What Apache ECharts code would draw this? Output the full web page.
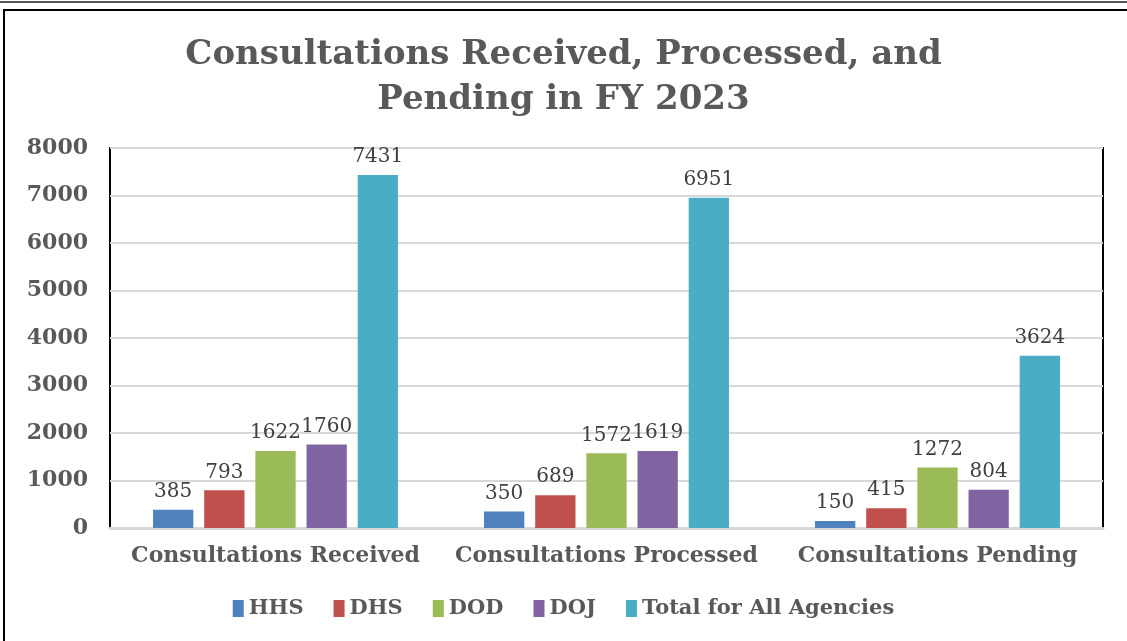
<!DOCTYPE html>
<html>
<head>
<meta charset="utf-8">
<title>Consultations FY 2023</title>
<script src="https://cdn.jsdelivr.net/npm/echarts@6/dist/echarts.min.js"></script>
<style>
  html, body { margin: 0; padding: 0; background: #fff; }
  #chart { width: 1127px; height: 641px; }
</style>
</head>
<body>
<div id="chart"></div>
<script>
const categories = ['Consultations Received', 'Consultations Processed', 'Consultations Pending']
const seriesNames = ['HHS', 'DHS', 'DOD', 'DOJ', 'Total for All Agencies']
const hhs = [385, 350, 150]
const dhs = [793, 689, 415]
const dod = [1622, 1572, 1272]
const doj = [1760, 1619, 804]
const total = [7431, 6951, 3624]
const yTicks = [0, 1000, 2000, 3000, 4000, 5000, 6000, 7000, 8000]

const colors = ['#4F81BD', '#C0504D', '#9BBB59', '#8064A2', '#4BACC6']
const serif = '"DejaVu Serif", "Liberation Serif", serif'
const textGray = '#595959'

const chart = echarts.init(document.getElementById('chart'))

const seriesData = [hhs, dhs, dod, doj, total]
const series = seriesData.map((values, i) => ({
  name: seriesNames[i],
  type: 'bar',
  data: values,
  barGap: '27%',
  barCategoryGap: '26%',
  itemStyle: { color: colors[i] },
  label: {
    show: true,
    position: 'top',
    distance: 8,
    color: '#404040',
    fontFamily: serif,
    fontSize: 20,
  },
}))

const option = {
  backgroundColor: '#fff',
  animation: false,
  title: {
    text: 'Consultations Received, Processed, and\nPending in FY 2023',
    left: 'center',
    top: 28,
    textStyle: {
      color: textGray,
      fontFamily: serif,
      fontWeight: 'bold',
      fontSize: 34,
      lineHeight: 45,
    },
  },
  legend: {
    data: seriesNames,
    bottom: 17,
    left: 'center',
    icon: 'rect',
    itemWidth: 11,
    itemHeight: 17,
    itemGap: 30,
    textStyle: {
      color: textGray,
      fontFamily: serif,
      fontWeight: 'bold',
      fontSize: 21,
    },
  },
  grid: {
    left: 110,
    top: 148,
    right: 24,
    bottom: 113,
    show: true,
    borderColor: '#000',
    borderWidth: 2,
  },
  xAxis: {
    type: 'category',
    data: categories,
    axisTick: { show: false },
    axisLine: { lineStyle: { color: '#d9d9d9', width: 3 } },
    axisLabel: {
      interval: 0,
      color: textGray,
      fontFamily: serif,
      fontWeight: 'bold',
      fontSize: 22,
      margin: 17,
    },
  },
  yAxis: {
    type: 'value',
    min: yTicks[0],
    max: yTicks[yTicks.length - 1],
    interval: 1000,
    axisLine: { show: false },
    axisTick: { show: false },
    splitLine: { lineStyle: { color: '#d9d9d9', width: 2 } },
    axisLabel: {
      formatter: (v) => String(v),
      color: textGray,
      fontFamily: serif,
      fontWeight: 'bold',
      fontSize: 22,
      margin: 22,
    },
  },
  // frame lines round the whole picture
  graphic: [
    { type: 'line', shape: { x1: 0, y1: 2, x2: 1127, y2: 2 }, style: { stroke: '#555', lineWidth: 2 } },
    { type: 'rect', shape: { x: 4, y: 10, width: 1130, height: 640 }, style: { fill: 'none', stroke: '#000', lineWidth: 2 }, z: 10 },
  ],
  series: series,
}

chart.setOption(option)
</script>
</body>
</html>
